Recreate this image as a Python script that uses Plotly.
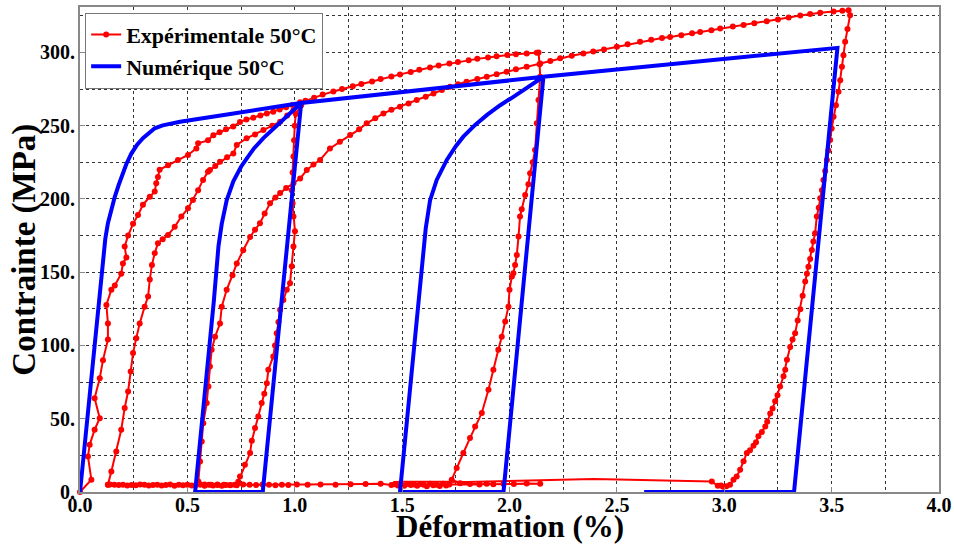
import plotly.graph_objects as go

# ---------------- Experimental (red) data ----------------
exp_load1_x = [0.0, 0.053, 0.037, 0.045, 0.068, 0.092, 0.068, 0.092, 0.107, 0.13, 0.13, 0.123, 0.146, 0.162, 0.192, 0.2, 0.216, 0.208, 0.224, 0.247, 0.27, 0.293, 0.325, 0.348, 0.355, 0.363, 0.371, 0.41, 0.456, 0.503, 0.542, 0.55, 0.596, 0.621, 0.65, 0.68, 0.714, 0.745, 0.775, 0.807, 0.84, 0.87, 0.9, 0.93, 0.96, 0.99, 1.025]
exp_load1_y = [0.0, 8.4, 24.3, 32.2, 42.5, 50.4, 64.0, 77.7, 90.0, 104.0, 115.0, 127.7, 138.0, 141.0, 149.0, 156.0, 160.0, 167.5, 175.0, 183.0, 189.0, 196.0, 201.5, 205.0, 210.7, 215.0, 220.0, 223.0, 226.6, 230.0, 234.5, 238.0, 240.0, 243.5, 245.5, 247.5, 249.5, 252.5, 254.3, 255.5, 257.0, 258.4, 259.5, 261.0, 262.5, 264.2, 266.0]

exp_unload1_x = [1.03, 1.005, 1.0, 0.997, 0.994, 0.99, 0.986, 0.99, 0.994, 1.001, 0.994, 0.986, 0.978, 0.963, 0.947, 0.932, 0.924, 0.916, 0.908, 0.9, 0.877, 0.87, 0.858, 0.846, 0.83, 0.815, 0.80, 0.792, 0.768, 0.745, 0.737]
exp_unload1_y = [264.0, 258.0, 250.0, 240.0, 229.0, 218.0, 206.0, 197.0, 188.0, 178.0, 167.5, 154.0, 142.5, 138.0, 131.0, 124.3, 116.0, 108.4, 100.0, 92.5, 83.4, 74.3, 67.0, 60.7, 51.5, 43.6, 35.0, 26.6, 18.6, 10.6, 7.0]

exp_zero1_x = [0.72, 0.70, 0.68, 0.66, 0.64, 0.62, 0.60, 0.58, 0.56, 0.54, 0.52, 0.50, 0.48, 0.46, 0.44, 0.42, 0.40, 0.38, 0.36, 0.34, 0.32, 0.30, 0.28, 0.26, 0.24, 0.22, 0.20, 0.18, 0.16, 0.14, 0.13]
exp_zero1_y = [5.0, 4.6, 4.8, 4.2, 5.1, 4.5, 4.9, 4.3, 5.2, 4.7, 4.4, 5.0, 4.6, 4.9, 4.3, 5.1, 4.8, 4.5, 5.0, 4.7, 4.4, 4.9, 5.2, 4.6, 4.8, 4.5, 5.0, 4.7, 4.9, 5.2, 5.0]

exp_load2_x = [0.13, 0.146, 0.169, 0.192, 0.208, 0.224, 0.236, 0.247, 0.262, 0.278, 0.301, 0.317, 0.325, 0.335, 0.348, 0.363, 0.385, 0.41, 0.441, 0.472, 0.503, 0.526, 0.55, 0.573, 0.596, 0.605, 0.63, 0.652, 0.685, 0.714, 0.73, 0.776, 0.815, 0.854, 0.895, 0.932, 0.965, 0.994, 1.025,
               1.05, 1.09, 1.13, 1.18, 1.22, 1.27, 1.31, 1.36, 1.40, 1.45, 1.49, 1.54, 1.58, 1.63, 1.67, 1.72, 1.76, 1.81, 1.85, 1.90, 1.94, 1.99, 2.03, 2.08, 2.127]
exp_load2_y = [5.0, 14.0, 27.7, 42.5, 57.3, 68.6, 82.2, 94.8, 105.0, 115.0, 126.5, 133.4, 145.0, 155.0, 163.0, 169.8, 172.5, 175.4, 181.0, 188.0, 193.6, 199.3, 206.0, 213.0, 218.6, 219.7, 222.5, 225.4, 228.5, 231.0, 236.8, 241.4, 244.0, 247.0, 250.0, 252.7, 257.0, 260.6, 264.0,
               267.0, 269.0, 271.2, 273.3, 275.0, 276.9, 278.4, 280.2, 281.8, 283.6, 285.0, 286.7, 288.2, 289.7, 291.0, 292.4, 293.5, 294.7, 295.6, 296.6, 297.4, 298.2, 298.8, 299.3, 299.7]

exp_unload2_x = [2.135, 2.14, 2.143, 2.135, 2.127, 2.119, 2.108, 2.096, 2.088, 2.073, 2.057, 2.049, 2.042, 2.034, 2.026, 2.018, 2.011, 2.0, 1.995, 1.98, 1.964, 1.948, 1.925, 1.902, 1.871, 1.84, 1.816, 1.785, 1.754, 1.731]
exp_unload2_y = [300.0, 292.0, 283.4, 267.5, 251.6, 233.4, 225.0, 217.5, 210.0, 202.7, 193.0, 188.0, 174.3, 161.8, 155.0, 149.3, 147.0, 138.0, 126.5, 116.3, 106.0, 97.0, 83.4, 69.8, 53.9, 44.7, 36.8, 26.6, 16.4, 8.4]

exp_zero2_x = [1.77, 1.816, 1.86, 1.894, 1.925, 1.972, 2.02, 2.08, 2.143,
               1.72, 1.705, 1.69, 1.675, 1.66, 1.645, 1.63, 1.615, 1.60, 1.585, 1.57, 1.555, 1.54, 1.525, 1.51, 1.495, 1.48, 1.465, 1.45,
               1.40, 1.33, 1.26, 1.19, 1.12, 1.06, 1.01, 0.97, 0.94, 0.91, 0.88, 0.85, 0.82, 0.79, 0.76, 0.73, 0.70, 0.67, 0.64, 0.61, 0.58, 0.56]
exp_zero2_y = [6.0, 5.5, 5.2, 5.6, 5.3, 5.5, 5.4, 5.8, 5.6,
               5.2, 4.4, 5.6, 4.1, 5.0, 4.6, 5.7, 4.0, 4.9, 5.4, 4.3, 5.1, 4.7, 5.5, 4.2, 5.0, 4.5, 5.3, 4.8,
               5.6, 5.4, 5.3, 5.0, 5.2, 4.9, 5.1, 4.8, 5.0, 4.6, 4.9, 5.1, 4.7, 4.9, 5.2, 4.6, 4.8, 5.0, 4.7, 4.9, 5.1, 5.2]

exp_load3_x = [0.551, 0.559, 0.567, 0.574, 0.59, 0.598, 0.605, 0.613, 0.629, 0.652, 0.66, 0.683, 0.71, 0.73, 0.76, 0.792, 0.815, 0.838, 0.86, 0.885, 0.91, 0.932, 0.96, 0.994, 1.025, 1.056, 1.087, 1.118, 1.164, 1.21, 1.258, 1.30, 1.335, 1.375, 1.413, 1.45, 1.49, 1.53, 1.568, 1.61, 1.646, 1.685, 1.723, 1.76, 1.8, 1.85, 1.894, 1.94, 1.987, 2.03, 2.08, 2.143,
               2.19, 2.236, 2.29, 2.344, 2.39, 2.44, 2.5, 2.55, 2.608, 2.66, 2.71, 2.748, 2.8, 2.85, 2.888, 2.94, 2.981, 3.04, 3.09, 3.14, 3.198, 3.25, 3.30, 3.354, 3.40, 3.447, 3.509, 3.55, 3.579]
exp_load3_y = [7.2, 20.9, 34.5, 47.0, 60.7, 72.0, 85.6, 97.0, 106.0, 115.0, 126.5, 138.0, 148.0, 156.0, 165.0, 174.0, 179.0, 183.4, 190.0, 197.0, 201.0, 204.0, 207.5, 210.7, 214.0, 219.7, 223.5, 226.6, 234.5, 239.0, 243.6, 247.5, 251.6, 255.0, 258.4, 260.8, 263.0, 265.2, 267.5, 269.8, 272.0, 274.3, 276.5, 278.3, 280.0, 281.8, 283.4, 285.1, 286.8, 288.5, 290.2, 292.5,
               294.2, 296.0, 297.7, 299.3, 300.6, 302.0, 303.8, 305.6, 307.2, 308.6, 309.8, 310.6, 311.8, 313.0, 314.0, 315.2, 316.3, 317.7, 318.8, 319.9, 321.2, 322.5, 323.8, 325.2, 326.2, 327.0, 327.9, 328.5, 328.8]

exp_unload3_x = [3.586, 3.574, 3.563, 3.555, 3.548, 3.54, 3.532, 3.52, 3.509, 3.50, 3.493, 3.485, 3.478, 3.47, 3.462, 3.455, 3.447, 3.44, 3.431, 3.423, 3.415, 3.408, 3.40, 3.392, 3.385, 3.377, 3.365, 3.354, 3.342, 3.33, 3.318, 3.307, 3.292, 3.284, 3.276, 3.26, 3.248, 3.237, 3.225, 3.214, 3.2, 3.191, 3.175, 3.159, 3.148, 3.136, 3.12, 3.105, 3.09, 3.074, 3.058, 3.043, 3.027, 3.01, 2.995, 2.985, 2.97, 2.942]
exp_unload3_y = [325.4, 316.0, 307.2, 298.0, 290.2, 281.0, 273.1, 264.0, 256.1, 248.0, 240.2, 233.0, 226.6, 219.0, 213.0, 206.0, 200.5, 194.0, 188.0, 176.6, 171.0, 165.2, 159.0, 153.8, 149.0, 143.6, 134.0, 124.8, 117.0, 108.4, 104.0, 99.0, 90.2, 83.4, 79.0, 72.0, 66.0, 62.0, 57.0, 53.5, 48.0, 44.7, 41.0, 38.0, 34.0, 31.5, 28.5, 26.6, 21.0, 15.2, 10.6, 8.4, 5.0, 4.0, 3.5, 4.5, 4.2, 7.2]

exp_tail_x = [2.942, 2.85, 2.75, 2.65, 2.55, 2.45, 2.39, 2.30, 2.20, 2.10, 2.00, 1.90, 1.80, 1.70, 1.60, 1.50, 1.46]
exp_tail_y = [7.2, 7.4, 7.6, 7.9, 8.3, 8.7, 8.9, 8.6, 8.0, 7.5, 7.2, 7.0, 6.9, 7.0, 7.2, 7.0, 6.8]

# ---------------- Numerical (blue) data ----------------
num_load1_x = [0.0, 0.075, 0.085, 0.095, 0.107, 0.118, 0.13, 0.145, 0.162, 0.18, 0.192, 0.215, 0.239, 0.265, 0.293, 0.32, 0.348, 0.385, 0.425, 0.466, 0.7, 1.03]
num_load1_y = [0.0, 112.0, 127.0, 140.0, 160.0, 173.0, 183.4, 193.0, 201.5, 209.5, 215.0, 223.5, 231.0, 236.8, 241.4, 245.2, 248.2, 250.2, 251.6, 252.7, 258.0, 265.5]
num_unload1_x = [0.851, 0.536]
num_unload1_y = [0.0, 0.0]
num_reload1_x = [0.623, 0.633, 0.645, 0.66, 0.683, 0.714, 0.75, 0.776, 0.81, 0.854, 0.9, 0.947, 0.99, 1.03]
num_reload1_y = [130.0, 150.0, 168.0, 183.0, 199.0, 212.0, 222.0, 227.5, 234.5, 241.5, 248.0, 254.0, 260.0, 265.5]
num_load2_x = [2.158, 1.972, 1.49]
num_load2_y = [283.4, 0.0, 0.0]
num_reload2_x = [1.572, 1.584, 1.597, 1.61, 1.63, 1.661, 1.708, 1.75, 1.785, 1.84, 1.894, 1.955, 2.018, 2.085, 2.158]
num_reload2_y = [125.0, 140.0, 162.0, 180.0, 199.0, 213.0, 226.6, 236.0, 242.5, 250.5, 257.2, 263.8, 269.7, 276.0, 283.4]
num_load3_x = [3.527, 3.325, 2.627]
num_load3_y = [303.1, 0.0, 0.0]

x_tickvals = [0.0, 0.5, 1.0, 1.5, 2.0, 2.5, 3.0, 3.5, 4.0]
x_ticktext = ["0.0", "0.5", "1.0", "1.5", "2.0", "2.5", "3.0", "3.5", "4.0"]
y_tickvals = [0, 50, 100, 150, 200, 250, 300]
y_ticktext = ["0.", "50.", "100.", "150.", "200.", "250.", "300."]

# ---------------- assemble ----------------
exp_x = (exp_load1_x + exp_unload1_x + exp_zero1_x + exp_load2_x + exp_unload2_x
         + exp_zero2_x + exp_load3_x + exp_unload3_x)
exp_y = (exp_load1_y + exp_unload1_y + exp_zero1_y + exp_load2_y + exp_unload2_y
         + exp_zero2_y + exp_load3_y + exp_unload3_y)

num_x = num_load1_x + num_unload1_x + num_reload1_x + num_load2_x + num_reload2_x + num_load3_x
num_y = num_load1_y + num_unload1_y + num_reload1_y + num_load2_y + num_reload2_y + num_load3_y

RED = "#ff0000"
BLUE = "#0000ff"
FONT = "Liberation Serif, Times New Roman, serif"

fig = go.Figure()
fig.add_trace(go.Scatter(x=exp_tail_x, y=exp_tail_y, mode="lines",
                         line=dict(color=RED, width=2), showlegend=False, hoverinfo="skip"))
fig.add_trace(go.Scatter(x=exp_x, y=exp_y, mode="lines+markers", name="Expérimentale 50°C",
                         line=dict(color=RED, width=2), marker=dict(color=RED, size=6),
                         cliponaxis=False))
fig.add_trace(go.Scatter(x=num_x, y=num_y, mode="lines", name="Numérique 50°C",
                         line=dict(color=BLUE, width=4)))

grid = dict(gridcolor="#333333", griddash="3px,3px", gridwidth=1)

fig.update_layout(
    width=954, height=545,
    margin=dict(l=80, r=15, t=7, b=53, autoexpand=False),
    paper_bgcolor="white", plot_bgcolor="white",
    font=dict(family=FONT, color="black"),
    legend=dict(x=0.006, y=0.988, xanchor="left", yanchor="top",
                bgcolor="white", bordercolor="#777777", borderwidth=1,
                font=dict(family=FONT, size=22, weight="bold"),
                tracegroupgap=0, itemwidth=30),
    xaxis=dict(range=[0, 4], tickvals=x_tickvals, ticktext=x_ticktext, automargin=False,
               showline=True, linecolor="#888888", linewidth=2, mirror=True,
               ticks="inside", ticklen=5, tickcolor="#888888", ticklabelstandoff=-6,
               tickfont=dict(family=FONT, size=20, weight="bold"),
               showgrid=True, **grid, zeroline=False,
               minor=dict(dtick=0.25, tick0=0, showgrid=True, **grid)),
    yaxis=dict(range=[0, 331], tickvals=y_tickvals, ticktext=y_ticktext, automargin=False,
               showline=True, linecolor="#888888", linewidth=2, mirror=True,
               ticks="inside", ticklen=5, tickcolor="#888888", ticklabelstandoff=-1,
               tickfont=dict(family=FONT, size=20, weight="bold"),
               showgrid=True, **grid, zeroline=False,
               minor=dict(dtick=25, tick0=0, showgrid=True, **grid)),
    annotations=[
        dict(text="Déformation (%)", xref="paper", yref="paper", x=0.5, y=-0.111,
             xanchor="center", yanchor="bottom", showarrow=False,
             font=dict(family=FONT, size=31, weight="bold")),
        dict(text="Contrainte (MPa)", xref="paper", yref="paper", x=-0.065, y=0.5,
             xanchor="center", yanchor="middle", textangle=-90, showarrow=False,
             font=dict(family=FONT, size=33, weight="bold")),
    ],
)

fig.write_html("out.html", config={"displayModeBar": False},
               post_script="document.body.style.margin='0';document.body.style.overflow='hidden';")
